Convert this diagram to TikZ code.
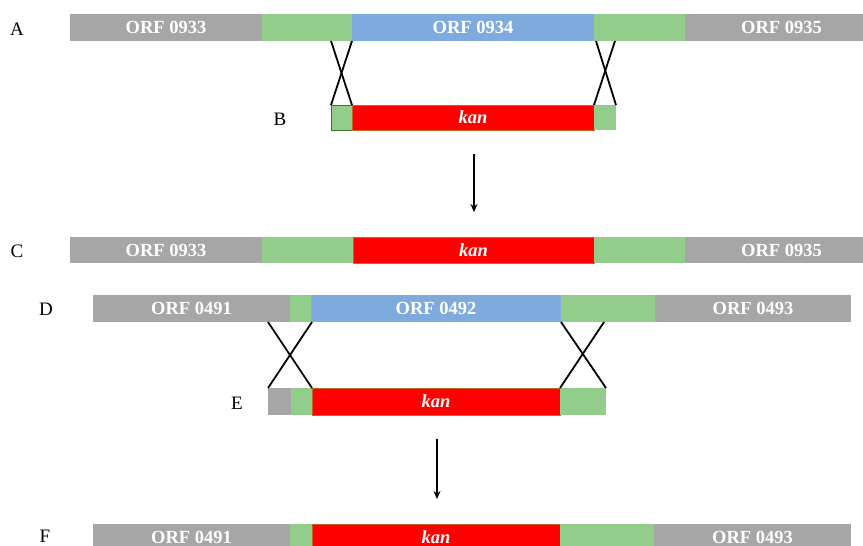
\documentclass[tikz,border=0pt]{standalone}
\usepackage{fontspec}
\setmainfont{Liberation Serif}
\usetikzlibrary{arrows.meta}
\definecolor{orfgray}{RGB}{166,166,166}
\definecolor{armgreen}{RGB}{147,205,140}
\definecolor{orfblue}{RGB}{126,170,221}
\definecolor{kanred}{RGB}{255,0,0}
\definecolor{kanedge}{RGB}{200,100,30}
\definecolor{boxedge}{RGB}{50,120,40}
\tikzset{
  seg/.style={rectangle, inner sep=0pt, outer sep=0pt, anchor=north west,
    minimum height=27pt, text=white, font=\fontsize{18.5}{20}\selectfont\bfseries},
  orf/.style={seg, fill=orfgray},
  arm/.style={seg, fill=armgreen},
  target/.style={seg, fill=orfblue},
  kanbox/.style={seg, fill=kanred, draw=kanedge, line width=0.6pt,
    font=\fontsize{18.5}{20}\selectfont\bfseries\itshape},
  tag/.style={font=\fontsize{19}{21}\selectfont, text=black},
  xover/.style={line width=1.8pt, black},
  step arrow/.style={line width=1.6pt, -{Stealth[length=8pt,width=7pt]}}
}
\begin{document}
\begin{tikzpicture}[x=1pt,y=-1pt]
\useasboundingbox (0,0) rectangle (863,546);
\clip (0,0) rectangle (863,546);

% A: wild-type locus around ORF 0934
\node[orf, minimum width=192] (a1) at (70,14) {ORF 0933};
\node[arm, minimum width=90] (a2) at (262,14) {};
\node[target, minimum width=242] (a3) at (352,14) {ORF 0934};
\node[arm, minimum width=91] (a4) at (594,14) {};
\node[orf, minimum width=193] (a5) at (685,14) {ORF 0935};
\node[tag] (la) at (17,29) {A};

% B: kan cassette with flanking arms
\node[arm, minimum width=21, minimum height=25, draw=boxedge, line width=0.8pt] (b1) at (331,105) {};
\node[kanbox, minimum width=242, minimum height=25] (b2) at (352,105) {kan};
\node[arm, minimum width=22, minimum height=25] (b3) at (594,105) {};
\node[tag] (lb) at (280,119) {B};

% crossovers A/B
\draw[xover] (b1.north west |- a2.south) -- (b1.north east);
\draw[xover] (b1.north east |- a2.south) -- (b1.north west);
\draw[xover] ([xshift=2pt]b3.north west |- a4.south) -- (b3.north east);
\draw[xover] ([xshift=-1pt]b3.north east |- a4.south) -- (b3.north west);

% step arrow
\coordinate (s1) at (474,154);
\coordinate (s2) at (474,212);
\draw[step arrow] (s1) -- (s2);

% C: replaced locus
\node[orf, minimum width=192, minimum height=26] (c1) at (70,237) {ORF 0933};
\node[arm, minimum width=91, minimum height=26] (c2) at (262,237) {};
\node[kanbox, minimum width=241, minimum height=26] (c3) at (353,237) {kan};
\node[arm, minimum width=91, minimum height=26] (c4) at (594,237) {};
\node[orf, minimum width=193, minimum height=26] (c5) at (685,237) {ORF 0935};
\node[tag] (lc) at (17,251) {C};

% D: wild-type locus around ORF 0492
\node[orf, minimum width=197] (d1) at (93,295) {ORF 0491};
\node[arm, minimum width=21] (d2) at (290,295) {};
\node[target, minimum width=250] (d3) at (311,295) {ORF 0492};
\node[arm, minimum width=94] (d4) at (561,295) {};
\node[orf, minimum width=196] (d5) at (655,295) {ORF 0493};
\node[tag] (ld) at (46,309) {D};

% E: kan cassette with flanking arms
\node[orf, minimum width=23] (e1) at (268,388) {};
\node[arm, minimum width=21] (e2) at (291,388) {};
\node[kanbox, minimum width=248] (e3) at (312,388) {kan};
\node[arm, minimum width=46] (e4) at (560,388) {};
\node[tag] (le) at (237,403) {E};

% crossovers D/E
\draw[xover] (e1.north west |- d1.south) -- (e2.north east);
\draw[xover] (e2.north east |- d1.south) -- (e1.north west);
\draw[xover] ([xshift=1pt]e4.north west |- d4.south) -- (e4.north east);
\draw[xover] ([xshift=-2pt]e4.north east |- d4.south) -- (e4.north west);

% step arrow
\coordinate (t1) at (437,439);
\coordinate (t2) at (437,499);
\draw[step arrow] (t1) -- (t2);

% F: replaced locus
\node[orf, minimum width=197] (f1) at (93,524) {ORF 0491};
\node[arm, minimum width=22] (f2) at (290,524) {};
\node[kanbox, minimum width=248] (f3) at (312,524) {kan};
\node[arm, minimum width=94] (f4) at (560,524) {};
\node[orf, minimum width=197] (f5) at (654,524) {ORF 0493};
\node[tag] (lf) at (45,536) {F};
\end{tikzpicture}
\end{document}
